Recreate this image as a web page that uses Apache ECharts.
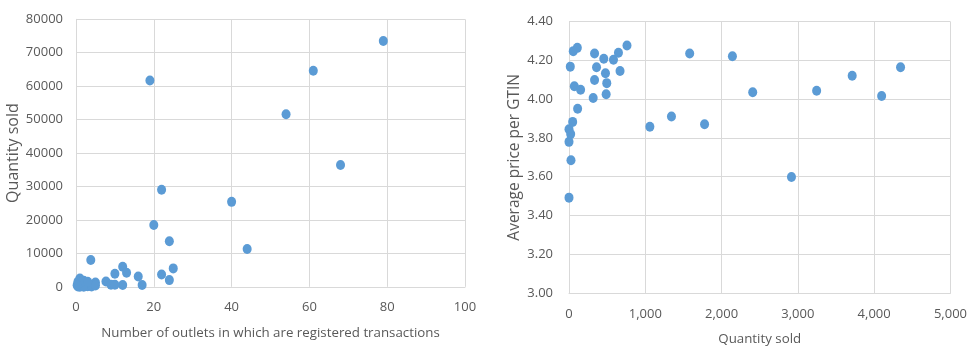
<!DOCTYPE html>
<html><head><meta charset="utf-8">
<script src="https://cdn.jsdelivr.net/npm/echarts@6/dist/echarts.min.js"></script>
<style>html,body{margin:0;padding:0;background:#fff}#c{width:970px;height:351px}</style>
</head><body><div id="c"></div>
<script>
// Left chart: [outlets, quantity sold]
const outletsQty = [
  [19,61700],[54,51600],[61,64600],[79,73500],[68,36400],
  [22,29000],[40,25400],[20,18500],[24,13600],[44,11300],
  [3.8,8000],[25,5500],[22,3700],[24,2000],[12,6000],[13,4200],
  [10,3900],[16,3100],[17,550],[12,550],[7.7,1600],[9,600],[10,600],
  [1,2500],[0.5,1500],[1,800],[1.5,300],[2,1800],[2,600],[2.5,1200],
  [3,200],[3,900],[3.5,400],[0.5,100],[1,0],[2,50],[4,100],[4,600],
  [5,1300],[5,400],[1.5,1500],[3,1500],[0.3,500]
];
// Right chart: [quantity sold, average price per GTIN]
const qtyPrice = [
  [0,3.78],[26,3.685],[0,3.845],[22,3.82],[48,3.883],[113,3.951],
  [70,4.067],[152,4.049],[17,4.168],[56,4.248],[109,4.265],
  [317,4.006],[335,4.099],[335,4.236],[361,4.165],[456,4.209],
  [478,4.134],[495,4.083],[487,4.026],[583,4.204],[648,4.240],
  [669,4.146],[760,4.277],[1060,3.858],[1343,3.911],[1582,4.236],
  [1777,3.871],[2142,4.222],[2408,4.036],[3246,4.044],[3712,4.121],
  [4098,4.017],[4346,4.165],[2916,3.599],[0,3.492]
];
const leftXTitle = 'Number of outlets in which are registered transactions';
const leftYTitle = 'Quantity sold';
const rightXTitle = 'Quantity sold';
const rightYTitle = 'Average price per GTIN';

const FONT = 'Open Sans';
const gridLine = {show:true, lineStyle:{color:'#d9d9d9', width:1}};
const axisLbl = {color:'#595959', fontSize:13, fontFamily:FONT};
const nameStyle = (fs) => ({color:'#595959', fontSize:fs, fontFamily:FONT});
const chart = echarts.init(document.getElementById('c'), null, {renderer:'canvas'});
chart.setOption({
  animation:false,
  grid:[
    {left:76, right:505, top:19.3, bottom:64.2},
    {left:569, right:17, top:21.7, bottom:54}
  ],
  xAxis:[
    {gridIndex:0, type:'value', min:0, max:100, interval:20,
     axisLine:{show:true, lineStyle:{color:'#d9d9d9'}}, axisTick:{show:false},
     splitLine:gridLine, axisLabel:Object.assign({margin:14}, axisLbl),
     name:leftXTitle, nameLocation:'middle', nameGap:40, nameTextStyle:nameStyle(13.3)},
    {gridIndex:1, type:'value', min:0, max:5000, interval:1000,
     axisLine:{show:true, lineStyle:{color:'#d9d9d9'}}, axisTick:{show:false},
     splitLine:gridLine,
     axisLabel:Object.assign({margin:15, formatter:v=>v.toLocaleString('en-US')}, axisLbl),
     name:rightXTitle, nameLocation:'middle', nameGap:40, nameTextStyle:nameStyle(13.3)}
  ],
  yAxis:[
    {gridIndex:0, type:'value', min:0, max:80000, interval:10000,
     axisLine:{show:true, lineStyle:{color:'#d9d9d9'}}, axisTick:{show:false},
     splitLine:gridLine, axisLabel:Object.assign({margin:13, formatter:v=>String(v)}, axisLbl),
     name:leftYTitle, nameLocation:'middle', nameGap:48, nameTextStyle:nameStyle(16)},
    {gridIndex:1, type:'value', min:3.0, max:4.4, interval:0.2,
     axisLine:{show:true, lineStyle:{color:'#d9d9d9'}}, axisTick:{show:false},
     splitLine:gridLine,
     axisLabel:Object.assign({margin:16, formatter:v=>v.toFixed(2)}, axisLbl),
     name:rightYTitle, nameLocation:'middle', nameGap:46, nameTextStyle:nameStyle(15.5)}
  ],
  series:[
    {type:'scatter', xAxisIndex:0, yAxisIndex:0, data:outletsQty,
     symbolSize:[9,10], itemStyle:{color:'#5b9bd5', opacity:1}},
    {type:'scatter', xAxisIndex:1, yAxisIndex:1, data:qtyPrice,
     symbolSize:[9,10], itemStyle:{color:'#5b9bd5', opacity:1}}
  ]
});
</script></body></html>
